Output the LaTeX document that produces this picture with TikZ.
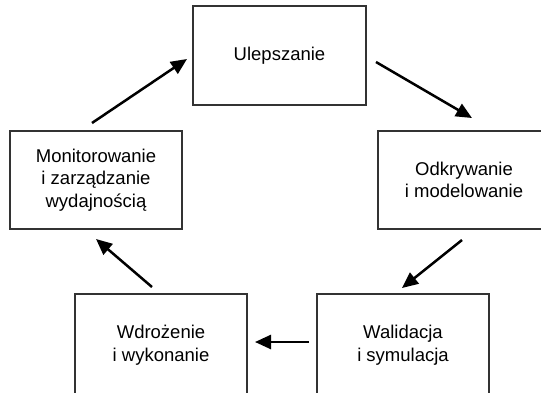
\documentclass[tikz,border=0pt]{standalone}
\usepackage{fontspec}
\setmainfont{Liberation Sans}
\usetikzlibrary{arrows.meta}
\tikzset{
  stage/.style={draw=black!80, line width=1.1pt, minimum width=172pt, minimum height=98pt,
    align=center, inner sep=0pt, font=\fontsize{18.5}{22.5}\selectfont},
  flow/.style={line width=2.5pt, -{Triangle[length=16pt,width=14pt]}}
}
\begin{document}
\begin{tikzpicture}[x=1pt,y=-1pt]
\useasboundingbox (0,0) rectangle (541,392);
\node[stage, minimum width=173pt, minimum height=99pt] (ulep) at (279.5,55.5) {Ulepszanie};
\node[stage] (odkr) at (464,180) {Odkrywanie\\i modelowanie};
\node[stage, minimum height=102pt] (wali) at (403,345) {Walidacja\\i symulacja};
\node[stage, minimum height=102pt] (wdro) at (161,345) {Wdrożenie\\i wykonanie};
\node[stage] (moni) at (96,180) {Monitorowanie\\i zarządzanie\\wydajnością};
\coordinate (a1s) at (92,123); \coordinate (a1e) at (187,59);
\coordinate (a2s) at (376,62); \coordinate (a2e) at (472,118);
\coordinate (a3s) at (462,240); \coordinate (a3e) at (402,288);
\coordinate (a4s) at (309,342); \coordinate (a4e) at (255,342);
\coordinate (a5s) at (152,287); \coordinate (a5e) at (96,239);
\draw[flow] (a1s) -- (a1e);
\draw[flow] (a2s) -- (a2e);
\draw[flow] (a3s) -- (a3e);
\draw[flow] (a4s) -- (a4e);
\draw[flow] (a5s) -- (a5e);
\end{tikzpicture}
\end{document}
